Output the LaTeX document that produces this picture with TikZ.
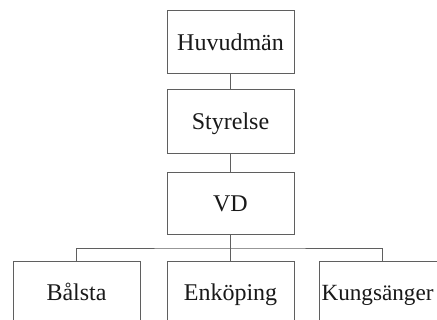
\documentclass[tikz,border=0pt]{standalone}
\usepackage{fontspec}
\setmainfont{Liberation Serif}
\definecolor{boxline}{RGB}{95,95,95}
\begin{document}
\begin{tikzpicture}[x=1pt,y=-1pt,
  orgbox/.style={draw=boxline, line width=0.9pt, fill=white, minimum width=127pt, minimum height=63pt, inner sep=0pt, text height=18pt, text depth=0pt, font=\fontsize{24}{26}\selectfont, text=black!90},
  link/.style={draw=boxline, line width=0.9pt}]
\useasboundingbox (0,0) rectangle (437,320);
\clip (0,0) rectangle (437,320);
\node[orgbox] (h) at (230.5,41.5) {Huvudmän};
\node[orgbox, minimum height=64pt] (s) at (230.5,121) {Styrelse};
\node[orgbox, minimum height=62pt] (v) at (230.5,203) {VD};
\node[orgbox, minimum height=62pt] (b) at (76.5,292) {Bålsta};
\node[orgbox, minimum height=62pt] (e) at (230.5,292) {Enköping};
\node[orgbox, minimum height=62pt, font=\fontsize{23.2}{26}\selectfont] (k) at (382.5,292) {\makebox[127pt][l]{\hspace{2.5pt}Kungsänger}};
\coordinate (bar) at (230.5,248);
\draw[link] (h.south) -- (s.north);
\draw[link] (s.south) -- (v.north);
\draw[link] (v.south) -- (e.north);
\draw[link] (b.north) |- (bar) -| (k.north);
\end{tikzpicture}
\end{document}
